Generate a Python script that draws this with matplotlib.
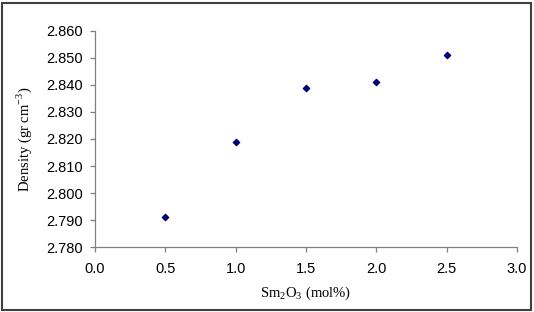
import matplotlib.pyplot as plt
from matplotlib.patches import Rectangle

plt.rcParams["mathtext.fontset"] = "custom"
plt.rcParams["mathtext.rm"] = "Liberation Serif"

sm2o3 = [0.5, 1.0, 1.5, 2.0, 2.5]
density = [2.791, 2.819, 2.839, 2.841, 2.851]
x_ticks = [0.0, 0.5, 1.0, 1.5, 2.0, 2.5, 3.0]
y_ticks = [2.780, 2.790, 2.800, 2.810, 2.820, 2.830, 2.840, 2.850, 2.860]

fig = plt.figure(figsize=(5.34, 3.12), dpi=100)
ax = fig.add_axes([0.178, 0.208, 0.79, 0.693])

ax.scatter(sm2o3, density, marker="D", s=10, color="#000080", zorder=3)

ax.set_xlim(0, 3.0)
ax.set_ylim(2.780, 2.860)
ax.set_xticks(x_ticks)
ax.set_xticklabels([f"{v:.1f}" for v in x_ticks], family="Liberation Sans", fontsize=10.5)
ax.set_yticks(y_ticks)
ax.set_yticklabels([f"{v:.3f}" for v in y_ticks], family="Liberation Sans", fontsize=10.5)

for side in ["top", "right"]:
    ax.spines[side].set_visible(False)
for side in ["left", "bottom"]:
    ax.spines[side].set_color("#808080")
    ax.spines[side].set_linewidth(0.9)
ax.tick_params(direction="out", length=3.6, color="#808080", width=0.9)
ax.tick_params(axis="y", pad=5)
ax.tick_params(axis="x", pad=7)

ax.set_xlabel("Sm$_2$O$_3$ (mol%)", family="Liberation Serif", fontsize=10.5, labelpad=6)
ax.set_ylabel("Density (gr cm$^{-3}$)", family="Liberation Serif", fontsize=10.5, labelpad=9)

fig.patches.append(Rectangle((0.004, 0.008), 0.991, 0.983, transform=fig.transFigure,
                             fill=False, edgecolor="#404040", linewidth=1.5))

fig.savefig("out.png", dpi=100)
